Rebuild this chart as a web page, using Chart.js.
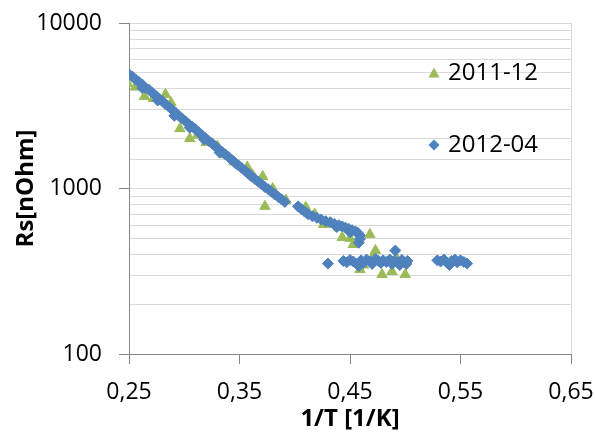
<!DOCTYPE html>
<html lang="de">
<head>
<meta charset="UTF-8">
<title>Rs vs 1/T</title>
<script src="https://cdn.jsdelivr.net/npm/chart.js"></script>
<style>
    * { margin: 0; padding: 0; }
    body { background: #ffffff; }
    #wrap { width: 595px; height: 433px; }
</style>
</head>
<body>
<div id="wrap"><canvas id="rsChart" width="595" height="433"></canvas></div>
<script>
// Messreihe 2011-12 (gruene Dreiecke)
const x2011 = [0.249, 0.256, 0.264, 0.272, 0.283, 0.288, 0.296, 0.305, 0.312, 0.320,
    0.330, 0.336, 0.345, 0.357, 0.362, 0.371, 0.373, 0.380, 0.392, 0.410,
    0.418, 0.426, 0.433, 0.440, 0.443, 0.450, 0.453, 0.459, 0.462, 0.468,
    0.470, 0.473, 0.479, 0.488, 0.492, 0.500];
const y2011 = [4300, 4100, 3600, 3500, 3700, 3300, 2300, 2000, 2100, 1900,
    1800, 1600, 1450, 1350, 1200, 1180, 780, 1000, 850, 770,
    700, 606, 620, 580, 506, 500, 459, 324, 345, 527,
    380, 422, 302, 315, 380, 302];

// Messreihe 2012-04 (blaue Rauten)
const x2012 = [0.250, 0.253, 0.256, 0.259, 0.262, 0.265, 0.268, 0.271, 0.274, 0.277,
    0.280, 0.283, 0.286, 0.289, 0.292, 0.295, 0.298, 0.301, 0.304, 0.307,
    0.310, 0.313, 0.316, 0.319, 0.322, 0.325, 0.328, 0.331, 0.334, 0.337,
    0.340, 0.343, 0.346, 0.349, 0.352, 0.355, 0.358, 0.361, 0.364, 0.367,
    0.370, 0.373, 0.376, 0.379, 0.382, 0.385, 0.388, 0.391, 0.403, 0.406,
    0.409, 0.412, 0.416, 0.420, 0.424, 0.428, 0.432, 0.436, 0.440, 0.443,
    0.446, 0.449, 0.452, 0.455, 0.457, 0.459, 0.459, 0.458,
    0.262, 0.276, 0.291, 0.305, 0.318, 0.332, 0.347, 0.360, 0.438, 0.450,
    0.430, 0.444, 0.447, 0.450, 0.453, 0.456, 0.458, 0.460, 0.462, 0.465,
    0.468, 0.470, 0.473, 0.476, 0.478, 0.480, 0.483, 0.486, 0.488, 0.490,
    0.491, 0.493, 0.495, 0.497, 0.499, 0.501, 0.502,
    0.529, 0.532, 0.535, 0.538, 0.540, 0.542, 0.545, 0.547, 0.550, 0.553, 0.556];
const y2012 = [4900, 4750, 4550, 4400, 4250, 4050, 3950, 3800, 3650, 3500,
    3380, 3230, 3120, 3000, 2880, 2750, 2650, 2550, 2450, 2370,
    2280, 2190, 2100, 2020, 1940, 1880, 1800, 1730, 1670, 1610,
    1550, 1490, 1430, 1380, 1330, 1280, 1230, 1180, 1140, 1100,
    1060, 1020, 990, 955, 920, 890, 860, 830, 780, 750,
    725, 700, 680, 665, 650, 635, 625, 610, 600, 590,
    580, 570, 560, 550, 540, 520, 495, 470,
    4050, 3400, 2750, 2330, 1980, 1650, 1410, 1200, 585, 545,
    352, 365, 358, 370, 362, 350, 340, 368, 355, 372,
    362, 350, 375, 365, 355, 368, 360, 372, 350, 365,
    422, 360, 345, 370, 358, 350, 365,
    368, 362, 372, 355, 345, 365, 372, 358, 368, 360, 352];

const seriesNames = ['2011-12', '2012-04'];
const xTicks = [0.25, 0.35, 0.45, 0.55, 0.65];
const yLabels = [100, 1000, 10000];

const toPoints = (xs, ys) => xs.map((x, i) => ({ x: x, y: ys[i] }));

const axisGrey = '#868686';
const gridGrey = '#d9d9d9';
const blau = '#4F81BD';
const gruen = '#9BBB59';

Chart.defaults.font.family = "'Open Sans', sans-serif";
Chart.defaults.color = '#000000';

// Legende innerhalb der Zeichenflaeche (wie im Excel-Original)
const innenLegende = {
    id: 'innenLegende',
    afterDatasetsDraw(chart) {
        const ctx = chart.ctx;
        const a = chart.chartArea;
        const eintraege = [
            { name: seriesNames[0], farbe: gruen, form: 'tri', dy: 50 },
            { name: seriesNames[1], farbe: blau, form: 'dia', dy: 122 }
        ];
        ctx.save();
        ctx.font = "24px 'Open Sans'";
        ctx.textBaseline = 'middle';
        eintraege.forEach(e => {
            const cx = a.left + 305;
            const cy = a.top + e.dy;
            ctx.fillStyle = e.farbe;
            ctx.beginPath();
            if (e.form === 'tri') {
                ctx.moveTo(cx, cy - 5.5);
                ctx.lineTo(cx + 5.5, cy + 4.5);
                ctx.lineTo(cx - 5.5, cy + 4.5);
            } else {
                ctx.moveTo(cx, cy - 5.5);
                ctx.lineTo(cx + 5.5, cy);
                ctx.lineTo(cx, cy + 5.5);
                ctx.lineTo(cx - 5.5, cy);
            }
            ctx.closePath();
            ctx.fill();
            ctx.fillStyle = '#000000';
            ctx.fillText(e.name, cx + 14, cy);
        });
        ctx.restore();
    }
};

const istDekade = (v) => yLabels.some(l => Math.abs(l - v) < 1e-6);

new Chart(document.getElementById('rsChart'), {
    type: 'scatter',
    data: {
        datasets: [
            {
                label: seriesNames[1],
                data: toPoints(x2012, y2012),
                pointStyle: 'rectRot',
                pointRadius: 5.5,
                backgroundColor: blau,
                borderColor: blau,
                borderWidth: 1,
                order: 0
            },
            {
                label: seriesNames[0],
                data: toPoints(x2011, y2011),
                pointStyle: 'triangle',
                pointRadius: 6,
                backgroundColor: gruen,
                borderColor: gruen,
                borderWidth: 1,
                order: 1
            }
        ]
    },
    options: {
        responsive: false,
        animation: false,
        layout: { padding: { top: 23, right: 0, left: 10, bottom: 2 } },
        plugins: {
            legend: { display: false },
            tooltip: { enabled: false }
        },
        scales: {
            x: {
                type: 'linear',
                min: 0.25,
                max: 0.65,
                afterBuildTicks: (scale) => {
                    scale.ticks = xTicks.map(v => ({ value: v }));
                },
                afterFit: (scale) => {
                    scale.height = 77;
                    scale.paddingLeft = 0;
                    scale.paddingRight = 24;
                },
                ticks: {
                    font: { size: 23, lineHeight: 1 },
                    padding: 17,
                    maxRotation: 0,
                    callback: (v) => v.toFixed(2).replace('.', ',')
                },
                grid: {
                    color: (c) => (c.tick && c.tick.value === 0.65 ? gridGrey : 'transparent'),
                    tickColor: axisGrey,
                    tickLength: 10,
                    lineWidth: 1
                },
                border: { color: axisGrey, width: 1 },
                title: {
                    display: true,
                    text: '1/T [1/K]',
                    font: { size: 24, weight: 'bold', lineHeight: 1 },
                    padding: { top: 0, bottom: 0 }
                }
            },
            y: {
                type: 'logarithmic',
                min: 100,
                max: 10000,
                afterFit: (scale) => {
                    scale.width = 119;
                    scale.paddingTop = 0;
                    scale.paddingBottom = 0;
                },
                ticks: {
                    autoSkip: false,
                    font: { size: 23, lineHeight: 1 },
                    padding: 17,
                    callback: (v) => (istDekade(v) ? String(Math.round(v)) : '')
                },
                grid: {
                    color: gridGrey,
                    lineWidth: 1,
                    tickColor: (c) => (c.tick && istDekade(c.tick.value) ? axisGrey : 'transparent'),
                    tickLength: 10
                },
                border: { color: axisGrey, width: 1 },
                title: {
                    display: true,
                    text: 'Rs[nOhm]',
                    font: { size: 24, weight: 'bold', lineHeight: 1 },
                    padding: { top: 4, bottom: 0 }
                }
            }
        }
    },
    plugins: [innenLegende]
});
</script>
</body>
</html>
